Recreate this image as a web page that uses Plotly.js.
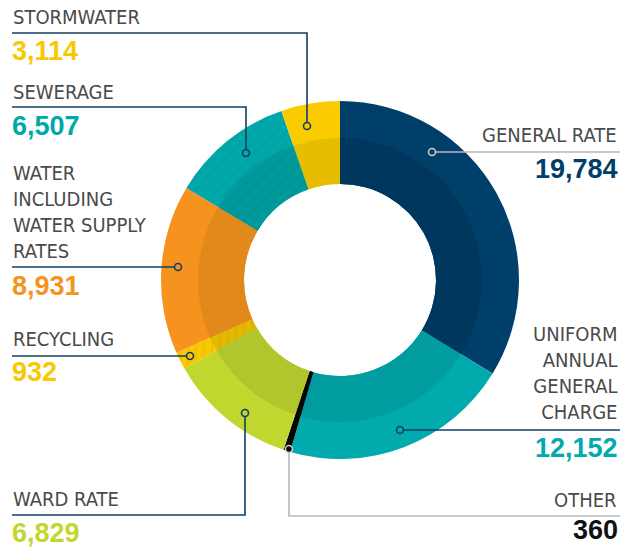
<!DOCTYPE html>
<html><head><meta charset="utf-8">
<script src="https://cdn.plot.ly/plotly-3.0.1.min.js"></script>
<style>html,body{margin:0;padding:0;background:#fff}#chart{width:624px;height:549px}</style>
</head><body><div id="chart"></div>
<script>
// Data
const categories = ["GENERAL RATE","UNIFORM ANNUAL GENERAL CHARGE","OTHER","WARD RATE","RECYCLING","WATER INCLUDING WATER SUPPLY RATES","SEWERAGE","STORMWATER"];
const labelText = ["GENERAL RATE","UNIFORM<br>ANNUAL<br>GENERAL<br>CHARGE","OTHER","WARD RATE","RECYCLING","WATER<br>INCLUDING<br>WATER SUPPLY<br>RATES","SEWERAGE","STORMWATER"];
const values = [19784, 12152, 360, 6829, 932, 8931, 6507, 3114];
const outerColors = ["#013f6b","#00aaad","#050505","#c1d72f","#f8c900","#f6931f","#00a8aa","#facc00"];
const innerColors = ["#00375e","#009c9f","#050505","#b1c52c","#e4b900","#e2891c","#009a9c","#e6bd00"];
const valueColors = ["#013f6b","#00aaad","#111111","#c1d72f","#f8c900","#f6931f","#00a8aa","#f8c900"];

const W = 624, H = 549;
const cx = 340, cy = 280, R1 = 179, R2 = 142, R0 = 96;
const px = x => x / W, py = y => 1 - y / H;

function dom(r){ return {x:[px(cx-r), px(cx+r)], y:[py(cy+r), py(cy-r)]}; }

const fmt = v => v.toLocaleString('en-US');
const shapesPat = ['','','','','|','','/',''];

const traces = [
  {type:'pie', values: values, labels: categories, sort:false, direction:'clockwise', rotation:0,
   hole: R0/R1, domain: dom(R1), textinfo:'none', hoverinfo:'label+value',
   marker:{colors: outerColors, line:{width:0},
     pattern:{shape:shapesPat, bgcolor: outerColors, fgcolor:['','','','','#e6b900','','#019c9e','',''], fgopacity:0.5, size:8, solidity:0.3}},
   showlegend:false},
  {type:'pie', values: values, labels: categories, sort:false, direction:'clockwise', rotation:0,
   hole: R0/R2, domain: dom(R2), textinfo:'none', hoverinfo:'label+value',
   marker:{colors: innerColors, line:{width:0},
     pattern:{shape:shapesPat, bgcolor: innerColors, fgcolor:['','','','','#d4aa00','','#008e90','',''], fgopacity:0.5, size:8, solidity:0.3}},
   showlegend:false}
];

const navy = "#103f63", gray = "#b9b9b9";
const layoutSpec = [
  {i:7, side:'L', ly:17,  line:33,  vy:51,  dot:[307,126], col:navy},
  {i:6, side:'L', ly:92,  line:107, vy:126, dot:[246,153], col:navy},
  {i:5, side:'L', ly:211.5, line:267, vy:286, dot:[178,267], col:navy},
  {i:4, side:'L', ly:339, line:356, vy:372, dot:[190,356], col:navy},
  {i:3, side:'L', ly:499, line:515, vy:533, dot:[245,413], col:navy},
  {i:0, side:'R', ly:135, line:152, vy:169, dot:[432,152], col:gray},
  {i:1, side:'R', ly:373, line:430, vy:448, dot:[400,430], col:navy},
  {i:2, side:'R', ly:500, line:516, vy:530, dot:[289,449], col:gray}
];

const annotations = [], shapes = [];
const labFont = {family:"Liberation Sans Narrow, DejaVu Sans Condensed, sans-serif", size:20, color:"#4a4a4a"};
layoutSpec.forEach(s => {
  const left = s.side === 'L';
  const tx = left ? 11 : 619;
  annotations.push({xref:'paper', yref:'paper', x:px(tx), y:py(s.ly), xanchor: left?'left':'right', yanchor:'middle',
    text: labelText[s.i], showarrow:false, align: left?'left':'right', font: labFont});
  annotations.push({xref:'paper', yref:'paper', x:px(left? 10 : 620), y:py(s.vy), xanchor: left?'left':'right', yanchor:'middle',
    text: '<b>'+fmt(values[s.i])+'</b>', showarrow:false, font:{family:"Liberation Sans, Arial, sans-serif", size:27, color: valueColors[s.i]}});
  const [dx, dy] = s.dot;
  const endX = left ? 12 : 620;
  let path;
  if (Math.abs(dy - s.line) < 1) {
    path = `M ${px(endX)} ${py(s.line)} L ${px(dx + (left?-3.5:3.5))} ${py(s.line)}`;
  } else {
    path = `M ${px(endX)} ${py(s.line)} L ${px(dx)} ${py(s.line)} L ${px(dx)} ${py(dy + (dy < s.line ? 3.5 : -3.5))}`;
  }
  shapes.push({type:'path', xref:'paper', yref:'paper', path: path, line:{color:s.col, width:1.6}});
  shapes.push({type:'circle', xref:'paper', yref:'paper', x0:px(dx-3.5), x1:px(dx+3.5), y0:py(dy+3.5), y1:py(dy-3.5),
    line:{color: s.col === gray ? "#c8c8c8" : navy, width:1.6}, fillcolor: s.i===2 ? "#050505" : "rgba(0,0,0,0)"});
});

const layout = {
  width: W, height: H, margin:{l:0,r:0,t:0,b:0}, paper_bgcolor:'#fff', plot_bgcolor:'#fff',
  showlegend:false, annotations: annotations, shapes: shapes
};
Plotly.newPlot('chart', traces, layout, {displayModeBar:false, staticPlot:true});
</script></body></html>
